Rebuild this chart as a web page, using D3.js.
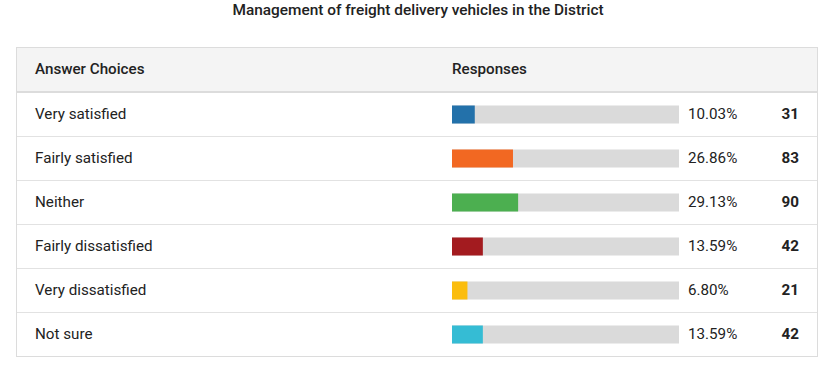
<!DOCTYPE html>
<html>
<head>
<meta charset="utf-8">
<script src="https://cdn.jsdelivr.net/npm/d3@7"></script>
<style>
  body { margin: 0; background: #fff; font-family: Roboto, "Noto Sans", sans-serif; }
</style>
</head>
<body>
<div id="main"></div>
<script>
const title = "Management of freight delivery vehicles in the District";
const choices = ["Very satisfied", "Fairly satisfied", "Neither", "Fairly dissatisfied", "Very dissatisfied", "Not sure"];
const percents = [10.03, 26.86, 29.13, 13.59, 6.80, 13.59];
const counts = [31, 83, 90, 42, 21, 42];
const colors = ["#2371aa", "#f26822", "#4caf50", "#a31b1f", "#fbbd0d", "#35bcd4"];

const width = 836, height = 374;
const box = { left: 16.5, right: 817.5, top: 47.5, header: 45 };
const rowH = 44;

const svg = d3.select("#main").append("svg")
    .attr("width", width)
    .attr("height", height);

svg.append("text")
    .attr("x", 418)
    .attr("y", 15)
    .attr("text-anchor", "middle")
    .attr("font-size", 15.4)
    .attr("font-weight", 500)
    .attr("fill", "#222")
    .text(title);

const y = d3.scaleBand()
    .domain(choices)
    .range([box.top + box.header, box.top + box.header + rowH * choices.length]);

const x = d3.scaleLinear()
    .domain([0, 100])
    .range([452, 679]);

// header
svg.append("rect")
    .attr("x", box.left).attr("y", box.top)
    .attr("width", box.right - box.left).attr("height", box.header)
    .attr("fill", "#f4f4f4");
svg.append("line")
    .attr("x1", box.left).attr("x2", box.right)
    .attr("y1", box.top + box.header - 0.5).attr("y2", box.top + box.header - 0.5)
    .attr("stroke", "#dcdcdc").attr("stroke-width", 2);

const head = svg.append("g")
    .attr("font-size", 15.2)
    .attr("font-weight", 500)
    .attr("fill", "#222");
head.append("text").attr("x", 35).attr("y", box.top + 26).text("Answer Choices");
head.append("text").attr("x", 452).attr("y", box.top + 26).text("Responses");

const rows = svg.append("g")
    .selectAll("g")
    .data(choices)
    .join("g")
    .attr("transform", d => `translate(0,${y(d)})`);

rows.filter((d, i) => i > 0).append("line")
    .attr("x1", box.left).attr("x2", box.right)
    .attr("y1", 0).attr("y2", 0)
    .attr("stroke", "#e2e2e2");

rows.append("text")
    .attr("x", 35)
    .attr("y", rowH / 2 + 4)
    .attr("font-size", 15.2)
    .attr("fill", "#222")
    .text(d => d);

rows.append("rect")
    .attr("x", x(0))
    .attr("y", rowH / 2 - 9)
    .attr("width", x(100) - x(0))
    .attr("height", 18)
    .attr("fill", "#dadada");

rows.append("rect")
    .attr("x", x(0))
    .attr("y", rowH / 2 - 9)
    .attr("width", (d, i) => x(percents[i]) - x(0))
    .attr("height", 18)
    .attr("fill", (d, i) => colors[i]);

rows.append("text")
    .attr("x", 688)
    .attr("y", rowH / 2 + 4)
    .attr("font-size", 15.2)
    .attr("fill", "#222")
    .text((d, i) => percents[i].toFixed(2) + "%");

rows.append("text")
    .attr("x", 799)
    .attr("y", rowH / 2 + 4)
    .attr("text-anchor", "end")
    .attr("font-size", 15.2)
    .attr("font-weight", 700)
    .attr("fill", "#222")
    .text((d, i) => counts[i]);

// outer border
svg.append("rect")
    .attr("x", box.left).attr("y", box.top)
    .attr("width", box.right - box.left)
    .attr("height", box.header + rowH * choices.length)
    .attr("fill", "none")
    .attr("stroke", "#dcdcdc");
</script>
</body>
</html>
